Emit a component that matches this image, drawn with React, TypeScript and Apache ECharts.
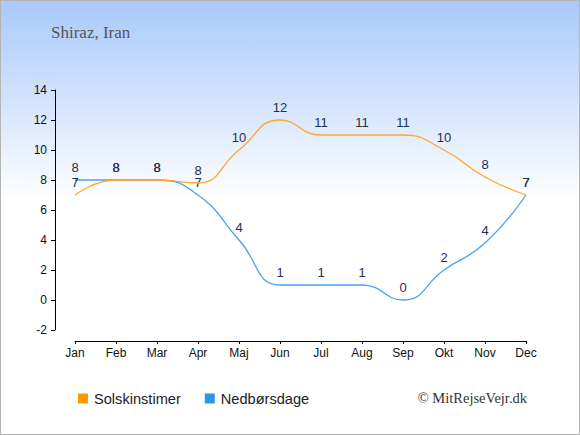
import React, { useEffect, useRef } from "react";
import * as echarts from "echarts";

const months = ["Jan", "Feb", "Mar", "Apr", "Maj", "Jun", "Jul", "Aug", "Sep", "Okt", "Nov", "Dec"];
const sunHours = [7.0, 8.0, 8.0, 7.8, 10.0, 12.0, 11.0, 11.0, 11.0, 10.0, 8.2, 7.0];
const rainDays = [8.0, 8.0, 8.0, 7.0, 4.0, 1.0, 1.0, 1.0, 0.0, 2.0, 3.8, 7.0];
const yTicks = { min: -2, max: 14, interval: 2 };
const title = "Shiraz, Iran";
const sunName = "Solskinstimer";
const rainName = "Nedbørsdage";
const copyright = "© MitRejseVejr.dk";

export default function App() {
  const ref = useRef<HTMLDivElement>(null);
  useEffect(() => {
    document.body.style.margin = "0";
    if (!ref.current) return;
    const chart = echarts.init(ref.current, null, { renderer: "svg" });
    const labelStyle = {
      show: true,
      position: "top",
      distance: 5,
      color: "#1f2f4f",
      textBorderWidth: 0,
      textBorderColor: "transparent",
      textShadowBlur: 0,
      fontSize: 13,
      fontFamily: "Liberation Sans, Arial, sans-serif",
      formatter: (p: any) => String(Math.round(p.value)),
    };
    chart.setOption({
      animation: false,
      title: {
        text: title,
        left: 51,
        top: 24,
        padding: 0,
        textStyle: {
          fontFamily: "Liberation Serif, serif",
          fontSize: 17,
          fontWeight: "normal",
          color: "#555555",
        },
      },
      legend: {
        data: [
          { name: sunName, itemStyle: { color: "#ff9900", opacity: 1 } },
          { name: rainName, itemStyle: { color: "#2f93e8", opacity: 1 } },
        ],
        left: 78,
        top: 391,
        padding: 0,
        itemWidth: 10,
        itemHeight: 10,
        itemGap: 24,
        icon: "rect",
        textStyle: {
          fontFamily: "Liberation Sans, Arial, sans-serif",
          fontSize: 14.6,
          color: "#222222",
          padding: [0, 0, 0, 1],
        },
      },
      grid: { left: 75, right: 54, top: 90, bottom: 105, containLabel: false },
      xAxis: {
        type: "category",
        data: months,
        boundaryGap: false,
        offset: 11,
        axisLine: { onZero: false, lineStyle: { color: "#000000", width: 1 } },
        axisTick: { show: true, length: 3, inside: false, lineStyle: { color: "#000000" } },
        axisLabel: {
          margin: 6,
          color: "#111111",
          fontSize: 12,
          fontFamily: "Liberation Sans, Arial, sans-serif",
        },
        splitLine: { show: false },
      },
      yAxis: {
        type: "value",
        min: yTicks.min,
        max: yTicks.max,
        interval: yTicks.interval,
        offset: 20,
        axisLine: { show: true, onZero: false, lineStyle: { color: "#000000", width: 1 } },
        axisTick: { show: true, length: 4, lineStyle: { color: "#000000" } },
        axisLabel: {
          margin: 8,
          color: "#111111",
          fontSize: 12,
          fontFamily: "Liberation Sans, Arial, sans-serif",
        },
        splitLine: { show: false },
      },
      graphic: [
        {
          type: "text",
          right: 53,
          top: 390,
          style: {
            text: copyright,
            font: "14.5px 'Liberation Serif', serif",
            fill: "#333333",
          },
        },
      ],
      series: [
        {
          name: rainName,
          type: "line",
          data: rainDays,
          smooth: 0.5,
          symbol: "circle",
          symbolSize: 2,
          itemStyle: { color: "rgba(0,0,0,0)", borderWidth: 0 },
          lineStyle: { color: "#4aa3ec", width: 1.3 },
          label: labelStyle,
          z: 2,
        },
        {
          name: sunName,
          type: "line",
          data: sunHours,
          smooth: 0.5,
          symbol: "circle",
          symbolSize: 2,
          itemStyle: { color: "rgba(0,0,0,0)", borderWidth: 0 },
          lineStyle: { color: "#ffa62b", width: 1.3 },
          label: labelStyle,
          z: 3,
        },
      ],
    });
    return () => chart.dispose();
  }, []);
  return (
    <div
      style={{
        position: "absolute",
        left: 0,
        top: 0,
        width: 580,
        height: 435,
        boxSizing: "border-box",
        border: "1px solid #b4b4b4",
        background: "linear-gradient(to bottom, #a9c9fa 0%, #d6e6fd 25%, #ffffff 46%, #ffffff 100%)",
      }}
    >
      <div ref={ref} style={{ position: "absolute", left: -1, top: -1, width: 580, height: 435 }} />
    </div>
  );
}
